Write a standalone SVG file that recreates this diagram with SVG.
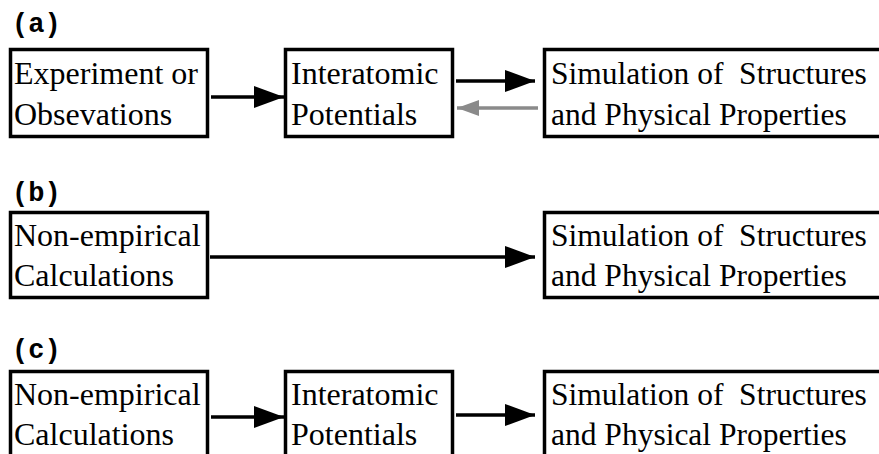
<svg xmlns="http://www.w3.org/2000/svg" width="879" height="454" viewBox="0 0 879 454">
<style>
.box{fill:#fff;stroke:#000;stroke-width:3.5}
.t{font-family:"Liberation Serif","Times New Roman",serif;font-size:32px;fill:#000;white-space:pre}
.t3{font-size:31.5px}
.lbl{font-family:"Liberation Mono","Courier New",monospace;font-weight:bold;font-size:27px;fill:#000}
.c{stroke:#000;stroke-width:3.5;fill:none}
.g{stroke:#8a8a8a;stroke-width:3.5;fill:none}
</style>
<defs>
<marker id="ah" markerUnits="userSpaceOnUse" markerWidth="30" markerHeight="22" refX="30" refY="11" orient="auto">
<path d="M0,0 L30,11 L0,22 z" fill="#000"/>
</marker>
<marker id="ahg" markerUnits="userSpaceOnUse" markerWidth="22" markerHeight="16" refX="22" refY="8" orient="auto">
<path d="M0,0 L22,8 L0,16 z" fill="#8a8a8a"/>
</marker>
</defs>
<rect width="879" height="454" fill="#fff"/>
<text class="lbl" x="12" y="32">(a)</text>
<text class="lbl" x="12" y="201">(b)</text>
<text class="lbl" x="12" y="358">(c)</text>

<g id="connectors">
<line class="c" x1="211" y1="97" x2="284" y2="97" marker-end="url(#ah)"/>
<line class="c" x1="456" y1="81" x2="535" y2="81" marker-end="url(#ah)"/>
<line class="g" x1="538" y1="108" x2="457" y2="108" marker-end="url(#ahg)"/>
<line class="c" x1="210" y1="257" x2="535" y2="257" marker-end="url(#ah)"/>
<line class="c" x1="211" y1="417" x2="284" y2="417" marker-end="url(#ah)"/>
<line class="c" x1="456" y1="415" x2="535" y2="415" marker-end="url(#ah)"/>
</g>

<g id="a1"><rect class="box" x="10.5" y="49.5" width="197" height="87"/>
<text class="t" x="14" y="84">Experiment or</text><text class="t" x="14" y="125">Obsevations</text></g>
<g id="a2"><rect class="box" x="285.5" y="49.5" width="167" height="87"/>
<text class="t" x="291" y="84">Interatomic</text><text class="t" x="291" y="125">Potentials</text></g>
<g id="a3"><rect class="box" x="544.5" y="49.5" width="340" height="87"/>
<text class="t t3" x="551" y="84">Simulation of  Structures</text><text class="t t3" x="551" y="125">and Physical Properties</text></g>

<g id="b1"><rect class="box" x="10.5" y="212.5" width="197" height="85"/>
<text class="t" x="14" y="246">Non-empirical</text><text class="t" x="14" y="286">Calculations</text></g>
<g id="b2"><rect class="box" x="544.5" y="212.5" width="340" height="85"/>
<text class="t t3" x="551" y="246">Simulation of  Structures</text><text class="t t3" x="551" y="286">and Physical Properties</text></g>

<g id="c1"><rect class="box" x="10.5" y="371.5" width="197" height="100"/>
<text class="t" x="14" y="405">Non-empirical</text><text class="t" x="14" y="445">Calculations</text></g>
<g id="c2"><rect class="box" x="285.5" y="371.5" width="167" height="100"/>
<text class="t" x="291" y="405">Interatomic</text><text class="t" x="291" y="445">Potentials</text></g>
<g id="c3"><rect class="box" x="544.5" y="371.5" width="340" height="100"/>
<text class="t t3" x="551" y="405">Simulation of  Structures</text><text class="t t3" x="551" y="445">and Physical Properties</text></g>
</svg>
